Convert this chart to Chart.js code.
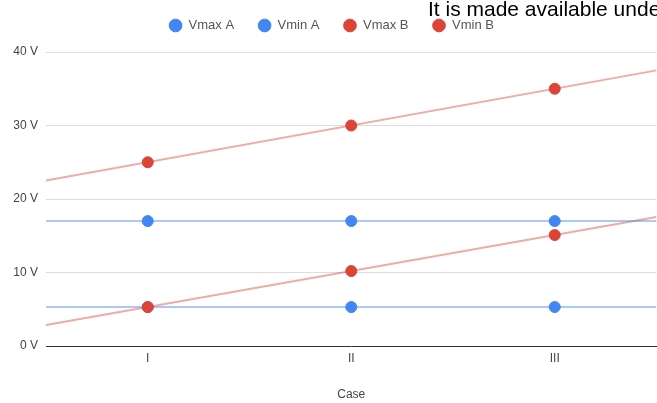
<!DOCTYPE html>
<html>
<head>
<meta charset="utf-8">
<script src="https://cdn.jsdelivr.net/npm/chart.js@4.4.0/dist/chart.umd.min.js"></script>
<style>
  html, body { margin: 0; padding: 0; background: #fff; }
  #wrap { position: relative; width: 657px; height: 403px; overflow: hidden; }
  #note {
    position: absolute; left: 428px; top: -3px;
    font-family: Arial, "Liberation Sans", sans-serif; font-size: 21px;
    color: #000; white-space: nowrap;
  }
</style>
</head>
<body>
<div id="wrap">
  <canvas id="chart" width="663" height="403"></canvas>
  <div id="note">It is made available under</div>
</div>
<script>
// data
const cases = ['I', 'II', 'III'];
const vmaxA = [17, 17, 17];
const vminA = [5.3, 5.3, 5.3];
const vmaxB = [25, 30, 35];
const vminB = [5.3, 10.2, 15.1];

const yTicks = [0, 10, 20, 30, 40];

const blue = '#4285F4';
const red = '#DB4437';

// least squares trendline, like the sheet does
function trend(values) {
  const xs = values.map((v, i) => i + 1);
  const n = values.length;
  const mx = xs.reduce((s, x) => s + x, 0) / n;
  const my = values.reduce((s, y) => s + y, 0) / n;
  let num = 0, den = 0;
  for (let i = 0; i < n; i++) {
    num += (xs[i] - mx) * (values[i] - my);
    den += (xs[i] - mx) * (xs[i] - mx);
  }
  const b = den ? num / den : 0;
  const a = my - b * mx;
  return [0.5, cases.length + 0.5].map(x => ({ x: x, y: a + b * x }));
}

function pts(values) {
  return values.map((v, i) => ({ x: i + 1, y: v }));
}

function pointSet(label, values, color, order) {
  return {
    type: 'scatter',
    label: label,
    data: pts(values),
    backgroundColor: color,
    borderColor: color,
    pointRadius: 5.5,
    pointHoverRadius: 5.5,
    order: order
  };
}

function trendSet(values, color) {
  return {
    type: 'line',
    label: '',
    data: trend(values),
    borderColor: color,
    borderWidth: 2,
    pointRadius: 0,
    fill: false,
    order: 10
  };
}

// fixed legend height so the plot starts where the sheet's does
const legendSpace = {
  id: 'legendSpace',
  beforeInit(chart) {
    const fit = chart.legend.fit;
    chart.legend.fit = function() {
      fit.bind(chart.legend)();
      this.height = 57;
    };
  }
};

const ctx = document.getElementById('chart').getContext('2d');
Chart.defaults.font.family = 'Arial, "Liberation Sans", sans-serif';

new Chart(ctx, {
  type: 'scatter',
  data: {
    datasets: [
      pointSet('Vmax A', vmaxA, blue, 4),
      pointSet('Vmin A', vminA, blue, 3),
      pointSet('Vmax B', vmaxB, red, 2),
      pointSet('Vmin B', vminB, red, 1),
      trendSet(vmaxA, 'rgba(66,133,244,0.45)'),
      trendSet(vminA, 'rgba(66,133,244,0.45)'),
      trendSet(vmaxB, 'rgba(219,68,55,0.45)'),
      trendSet(vminB, 'rgba(219,68,55,0.45)')
    ]
  },
  options: {
    responsive: false,
    animation: false,
    layout: { padding: { top: -5, right: 0, left: 0, bottom: 0 } },
    plugins: {
      tooltip: { enabled: false },
      legend: {
        position: 'top',
        labels: {
          usePointStyle: true,
          pointStyle: 'circle',
          boxWidth: 21,
          boxHeight: 9,
          padding: 24,
          color: '#555',
          font: { size: 13 },
          filter: item => item.text !== '',
          sort: (a, b) => a.datasetIndex - b.datasetIndex
        }
      }
    },
    scales: {
      x: {
        type: 'linear',
        min: 0.5,
        max: cases.length + 0.5,
        afterBuildTicks: s => { s.ticks = cases.map((c, i) => ({ value: i + 1 })); },
        afterFit: s => { s.height = 57; },
        grid: { display: false, drawTicks: false },
        border: { display: true, color: '#333', width: 1 },
        ticks: {
          padding: 5,
          color: '#444',
          font: { size: 12 },
          callback: v => cases[v - 1] || ''
        },
        title: {
          display: true,
          text: 'Case',
          color: '#444',
          font: { size: 12 },
          padding: { top: 0, bottom: 1 }
        }
      },
      y: {
        min: 0,
        max: 40,
        afterBuildTicks: s => { s.ticks = yTicks.map(v => ({ value: v })); },
        afterFit: s => { s.width = 46; },
        grid: { color: '#ddd', drawTicks: false },
        border: { display: false },
        ticks: {
          padding: 8,
          color: '#444',
          font: { size: 12 },
          callback: v => v + ' V'
        }
      }
    }
  },
  plugins: [legendSpace]
});
</script>
</body>
</html>
